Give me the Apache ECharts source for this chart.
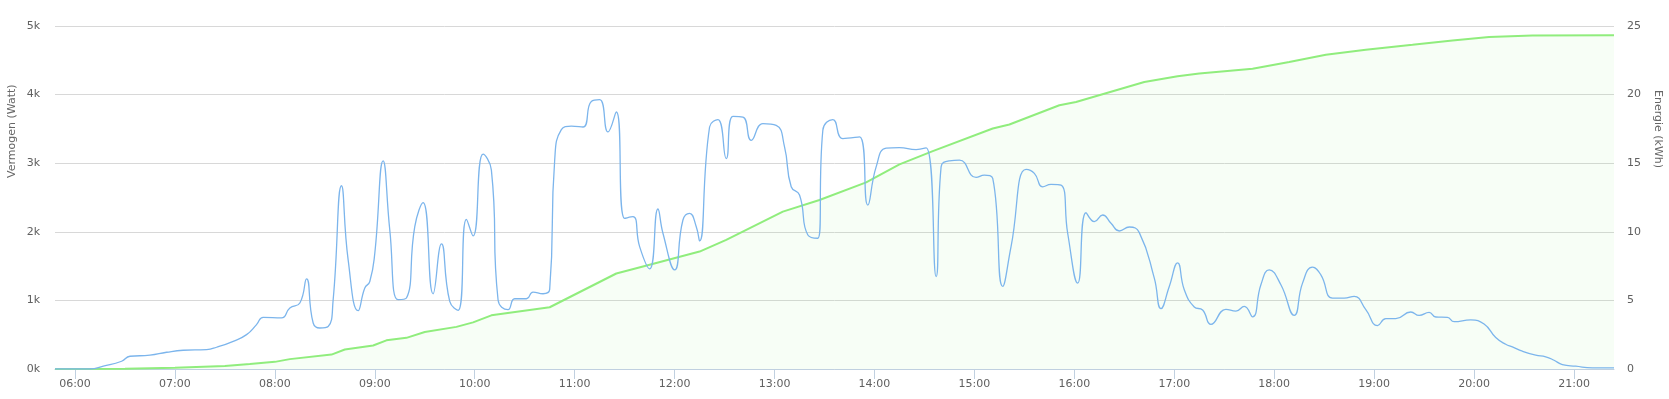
<!DOCTYPE html>
<html>
<head>
<meta charset="utf-8">
<script src="https://cdn.jsdelivr.net/npm/echarts@6/dist/echarts.min.js"></script>
<style>
html,body{margin:0;padding:0;background:#fff;}
#chart{width:1669px;height:399px;}
</style>
</head>
<body>
<div id="chart"></div>
<script>
// ---- data ----
const powerTimes = ["05:48","06:09","06:17","06:28","06:33","06:45","06:55","07:05","07:19","07:25","07:35","07:43","07:49","07:53","08:04","08:09","08:15","08:19","08:23","08:27","08:32","08:35","08:40","08:44","08:50","08:54","08:57","09:00","09:05","09:09","09:14","09:19","09:24","09:29","09:35","09:40","09:45","09:50","09:55","09:59","10:05","10:10","10:14","10:20","10:24","10:31","10:35","10:41","10:45","10:48","10:52","10:58","11:05","11:10","11:15","11:20","11:25","11:30","11:35","11:39","11:45","11:50","11:53","12:00","12:05","12:09","12:13","12:15","12:21","12:26","12:31","12:35","12:41","12:46","12:53","13:01","13:06","13:10","13:15","13:20","13:26","13:29","13:35","13:41","13:51","13:56","14:01","14:07","14:15","14:25","14:31","14:37","14:40","14:45","14:51","15:01","15:06","15:11","15:17","15:22","15:31","15:36","15:41","15:46","15:52","15:56","16:02","16:07","16:12","16:17","16:22","16:27","16:33","16:39","16:48","16:52","16:57","17:02","17:06","17:12","17:17","17:22","17:31","17:37","17:42","17:47","17:52","17:57","18:04","18:12","18:17","18:23","18:28","18:35","18:42","18:48","18:55","19:02","19:07","19:13","19:22","19:27","19:33","19:37","19:44","19:48","19:58","20:06","20:13","20:19","20:23","20:29","20:37","20:43","20:48","20:53","21:01","21:11","21:24"];
const powerValues = [0,0,41,113,186,201,244,273,283,317,404,501,647,753,744,889,962,1315,671,598,620,1010,2671,1591,850,1180,1276,1688,3034,2027,1010,1034,2075,2424,1097,1823,985,855,2182,1940,3131,2899,1010,865,1024,1024,1122,1097,1160,3044,3490,3540,3528,3901,3926,3456,3746,2197,2220,1784,1460,2332,1979,1446,2172,2270,2075,1867,3528,3635,3068,3683,3673,3334,3577,3552,3237,2656,2536,1954,1906,3480,3635,3359,3383,2390,2947,3220,3228,3199,3223,1348,2947,3034,3044,2792,2826,2778,1203,1784,2909,2851,2656,2691,2681,1979,1252,2278,2148,2245,2124,2012,2070,1988,1325,880,1203,1548,1155,904,860,650,870,845,913,760,1228,1446,1228,782,1252,1485,1373,1034,1034,1058,865,632,734,734,831,782,826,758,753,690,715,657,460,360,322,259,201,177,128,65,41,17,15];

const energyTimes = ["05:48","06:30","07:00","07:30","07:45","08:00","08:09","08:34","08:42","08:59","09:07","09:19","09:30","09:49","09:59","10:10","10:45","11:25","11:45","12:15","12:31","13:05","13:27","13:55","14:15","14:35","15:11","15:21","15:51","16:01","16:42","17:02","17:15","17:47","18:09","18:31","18:55","19:23","19:47","20:09","20:35","21:24"];
const energyValues = [0,0.02,0.1,0.22,0.36,0.52,0.72,1.05,1.42,1.71,2.09,2.27,2.70,3.07,3.40,3.91,4.5,6.96,7.6,8.56,9.41,11.47,12.32,13.6,14.91,15.88,17.53,17.82,19.22,19.46,20.92,21.33,21.53,21.88,22.37,22.91,23.27,23.63,23.95,24.19,24.31,24.33];

const hourTicks = ["06:00","07:00","08:00","09:00","10:00","11:00","12:00","13:00","14:00","15:00","16:00","17:00","18:00","19:00","20:00","21:00"];
const powerTicks = [0,1000,2000,3000,4000,5000];
const energyTicks = [0,5,10,15,20,25];

// ---- helpers ----
function toMin(s){const p=s.split(':');return (+p[0])*60+(+p[1]);}
function fmtMin(v){const h=Math.floor(v/60),m=Math.round(v-h*60);return (h<10?'0':'')+h+':'+(m<10?'0':'')+m;}
const powerData = powerTimes.map((t,i)=>[toMin(t),powerValues[i]]);
const energyData = energyTimes.map((t,i)=>[toMin(t),energyValues[i]]);
const tickMins = hourTicks.map(toMin);

const FONT = '"DejaVu Sans", Verdana, sans-serif';
const LABEL = '#606060';

const chart = echarts.init(document.getElementById('chart'), null, {renderer:'canvas'});
chart.setOption({
  animation:false,
  backgroundColor:'#fff',
  grid:{left:55,right:55,top:26,bottom:30,containLabel:false},
  xAxis:{
    type:'value',
    min:toMin("05:48"),
    max:toMin("21:24"),
    axisLine:{show:true,lineStyle:{color:'#C0D0E0',width:1}},
    axisTick:{show:true,length:10,lineStyle:{color:'#C0D0E0'},customValues:tickMins},
    axisLabel:{customValues:tickMins,formatter:fmtMin,color:LABEL,fontSize:11,fontFamily:FONT,margin:10},
    splitLine:{show:false}
  },
  yAxis:[{
    type:'value',
    min:powerTicks[0],max:powerTicks[powerTicks.length-1],interval:1000,
    axisLine:{show:false},axisTick:{show:false},
    axisLabel:{formatter:v=>(v/1000)+'k',color:LABEL,fontSize:11,fontFamily:FONT,margin:15},
    splitLine:{show:true,lineStyle:{color:'#D8D8D8',width:1}}
  },{
    type:'value',
    min:energyTicks[0],max:energyTicks[energyTicks.length-1],interval:5,
    axisLine:{show:false},axisTick:{show:false},
    axisLabel:{color:LABEL,fontSize:11,fontFamily:FONT,margin:13},
    splitLine:{show:false}
  }],
  graphic:[{
    type:'text',
    x:7,y:178,
    rotation:Math.PI/2,
    style:{text:'Vermogen (Watt)',fill:'#666',font:'11px '+FONT,textAlign:'left',textVerticalAlign:'top'}
  },{
    type:'text',
    x:1663,y:90,
    rotation:-Math.PI/2,
    style:{text:'Energie (kWh)',fill:'#666',font:'11px '+FONT,textAlign:'left',textVerticalAlign:'top'}
  }],
  series:[{
    name:'Energie',type:'line',yAxisIndex:1,data:energyData,
    showSymbol:false,smooth:false,z:2,
    lineStyle:{color:'#90ed7d',width:2},
    itemStyle:{color:'#90ed7d'},
    areaStyle:{color:'rgba(144,237,125,0.1)'}
  },{
    name:'Vermogen',type:'line',yAxisIndex:0,data:powerData,
    showSymbol:false,smooth:0.5,z:3,
    lineStyle:{color:'#7cb5ec',width:1.3},
    itemStyle:{color:'#7cb5ec'}
  }]
});
</script>
</body>
</html>
